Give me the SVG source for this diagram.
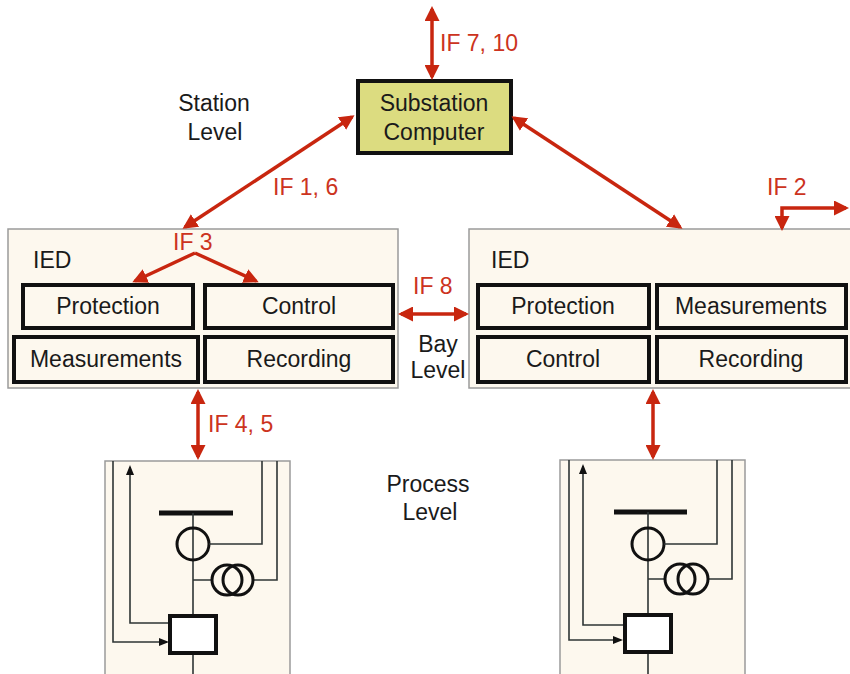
<svg xmlns="http://www.w3.org/2000/svg" width="850" height="674" viewBox="0 0 850 674">
<style>
text{font-family:"Liberation Sans",Arial,sans-serif;font-size:23px;fill:#1a1a1a}
.red{fill:#cc3320}
.mid{text-anchor:middle}
.ied{fill:#fdf8ee;stroke:#9a9a9a;stroke-width:1.5}
.fn{fill:#fdf8ee;stroke:#111;stroke-width:4}
.arr{stroke:#c8260f;stroke-width:3.5;fill:none;marker-start:url(#ah);marker-end:url(#ah)}
.one{stroke:#c8260f;stroke-width:3.5;fill:none;marker-end:url(#ah)}
.w{stroke:#2e3535;stroke-width:1.6;fill:none}
.wa{stroke:#2e3535;stroke-width:1.6;fill:none;marker-end:url(#sa)}
</style>
<defs>
<marker id="ah" markerUnits="userSpaceOnUse" markerWidth="15" markerHeight="15" refX="12" refY="7.5" orient="auto-start-reverse" viewBox="0 0 15 15">
<path d="M0,0 L15,7.5 L0,15 z" fill="#c8260f"/>
</marker>
<marker id="sa" markerUnits="userSpaceOnUse" markerWidth="10" markerHeight="8" refX="8" refY="4" orient="auto" viewBox="0 0 10 8">
<path d="M0,0 L10,4 L0,8 z" fill="#111"/>
</marker>
</defs>
<rect width="850" height="674" fill="#fff"/>

<text class="mid" x="214" y="111">Station</text>
<text class="mid" x="215" y="140">Level</text>
<text class="mid" x="438" y="352">Bay</text>
<text class="mid" x="438" y="378">Level</text>
<text class="mid" x="428" y="492">Process</text>
<text class="mid" x="430" y="520">Level</text>

<g id="substation-computer">
<rect x="358" y="81" width="153" height="72" fill="#dcdc80" stroke="#111" stroke-width="4"/>
<text class="mid" x="434" y="111">Substation</text>
<text class="mid" x="434" y="140">Computer</text>
</g>

<g id="ied-left">
<rect class="ied" x="8" y="229" width="390" height="159"/>
<text x="33" y="268">IED</text>
<rect class="fn" x="23" y="285" width="170" height="43"/>
<text class="mid" x="108" y="314">Protection</text>
<rect class="fn" x="205" y="285" width="188" height="43"/>
<text class="mid" x="299" y="314">Control</text>
<rect class="fn" x="14" y="337" width="184" height="45"/>
<text class="mid" x="106" y="367">Measurements</text>
<rect class="fn" x="205" y="337" width="188" height="45"/>
<text class="mid" x="299" y="367">Recording</text>
</g>

<g id="ied-right">
<rect class="ied" x="469" y="229" width="400" height="159"/>
<text x="491" y="268">IED</text>
<rect class="fn" x="478" y="285" width="171" height="43"/>
<text class="mid" x="563" y="314">Protection</text>
<rect class="fn" x="657" y="285" width="189" height="43"/>
<text class="mid" x="751" y="314">Measurements</text>
<rect class="fn" x="478" y="337" width="171" height="45"/>
<text class="mid" x="563" y="367">Control</text>
<rect class="fn" x="657" y="337" width="189" height="45"/>
<text class="mid" x="751" y="367">Recording</text>
</g>

<g id="process-left">
<rect class="ied" x="105" y="461" width="185" height="230"/>
<path class="wa" d="M113,461 V642 H167"/>
<path class="wa" d="M170,623 H130 V467"/>
<line x1="159" y1="513" x2="233" y2="513" stroke="#111" stroke-width="5"/>
<path class="w" d="M193,513 V616 M193,653 V674"/>
<circle cx="193" cy="544" r="16" fill="none" stroke="#111" stroke-width="3"/>
<path class="w" d="M209,544 H262 V461"/>
<path class="w" d="M193,580 H212 M253,580 H277 V461"/>
<circle cx="227" cy="580" r="15" fill="none" stroke="#111" stroke-width="3"/>
<circle cx="238" cy="580" r="15" fill="none" stroke="#111" stroke-width="3"/>
<rect x="170" y="616" width="46" height="37" fill="#fff" stroke="#111" stroke-width="4"/>
</g>

<g id="process-right">
<rect class="ied" x="560" y="460" width="185" height="230"/>
<path class="wa" d="M569,460 V640 H621"/>
<path class="wa" d="M624,625 H583 V466"/>
<line x1="614" y1="512" x2="687" y2="512" stroke="#111" stroke-width="5"/>
<path class="w" d="M648,512 V615 M648,652 V674"/>
<circle cx="648" cy="544" r="16" fill="none" stroke="#111" stroke-width="3"/>
<path class="w" d="M664,544 H717 V460"/>
<path class="w" d="M648,579 H665 M708,579 H732 V460"/>
<circle cx="680" cy="579" r="15" fill="none" stroke="#111" stroke-width="3"/>
<circle cx="693" cy="579" r="15" fill="none" stroke="#111" stroke-width="3"/>
<rect x="625" y="615" width="46" height="37" fill="#fff" stroke="#111" stroke-width="4"/>
</g>

<g id="connectors">
<line class="arr" x1="432" y1="9" x2="432" y2="77"/>
<line class="arr" x1="185" y1="227" x2="352" y2="117"/>
<line class="arr" x1="514" y1="118" x2="680" y2="227"/>
<path class="one" d="M846,208 H782 V228" style="marker-start:url(#ah)"/>
<line class="one" x1="195" y1="253" x2="135" y2="281"/>
<line class="one" x1="195" y1="253" x2="256" y2="281"/>
<line class="arr" x1="401" y1="314" x2="466" y2="314"/>
<line class="arr" x1="198" y1="392" x2="198" y2="457"/>
<line class="arr" x1="653" y1="392" x2="653" y2="457"/>
<text class="red" x="440" y="51">IF 7, 10</text>
<text class="red" x="273" y="195">IF 1, 6</text>
<text class="red" x="767" y="195">IF 2</text>
<text class="red" x="173" y="250">IF 3</text>
<text class="red" x="413" y="294">IF 8</text>
<text class="red" x="208" y="432">IF 4, 5</text>
</g>
</svg>
